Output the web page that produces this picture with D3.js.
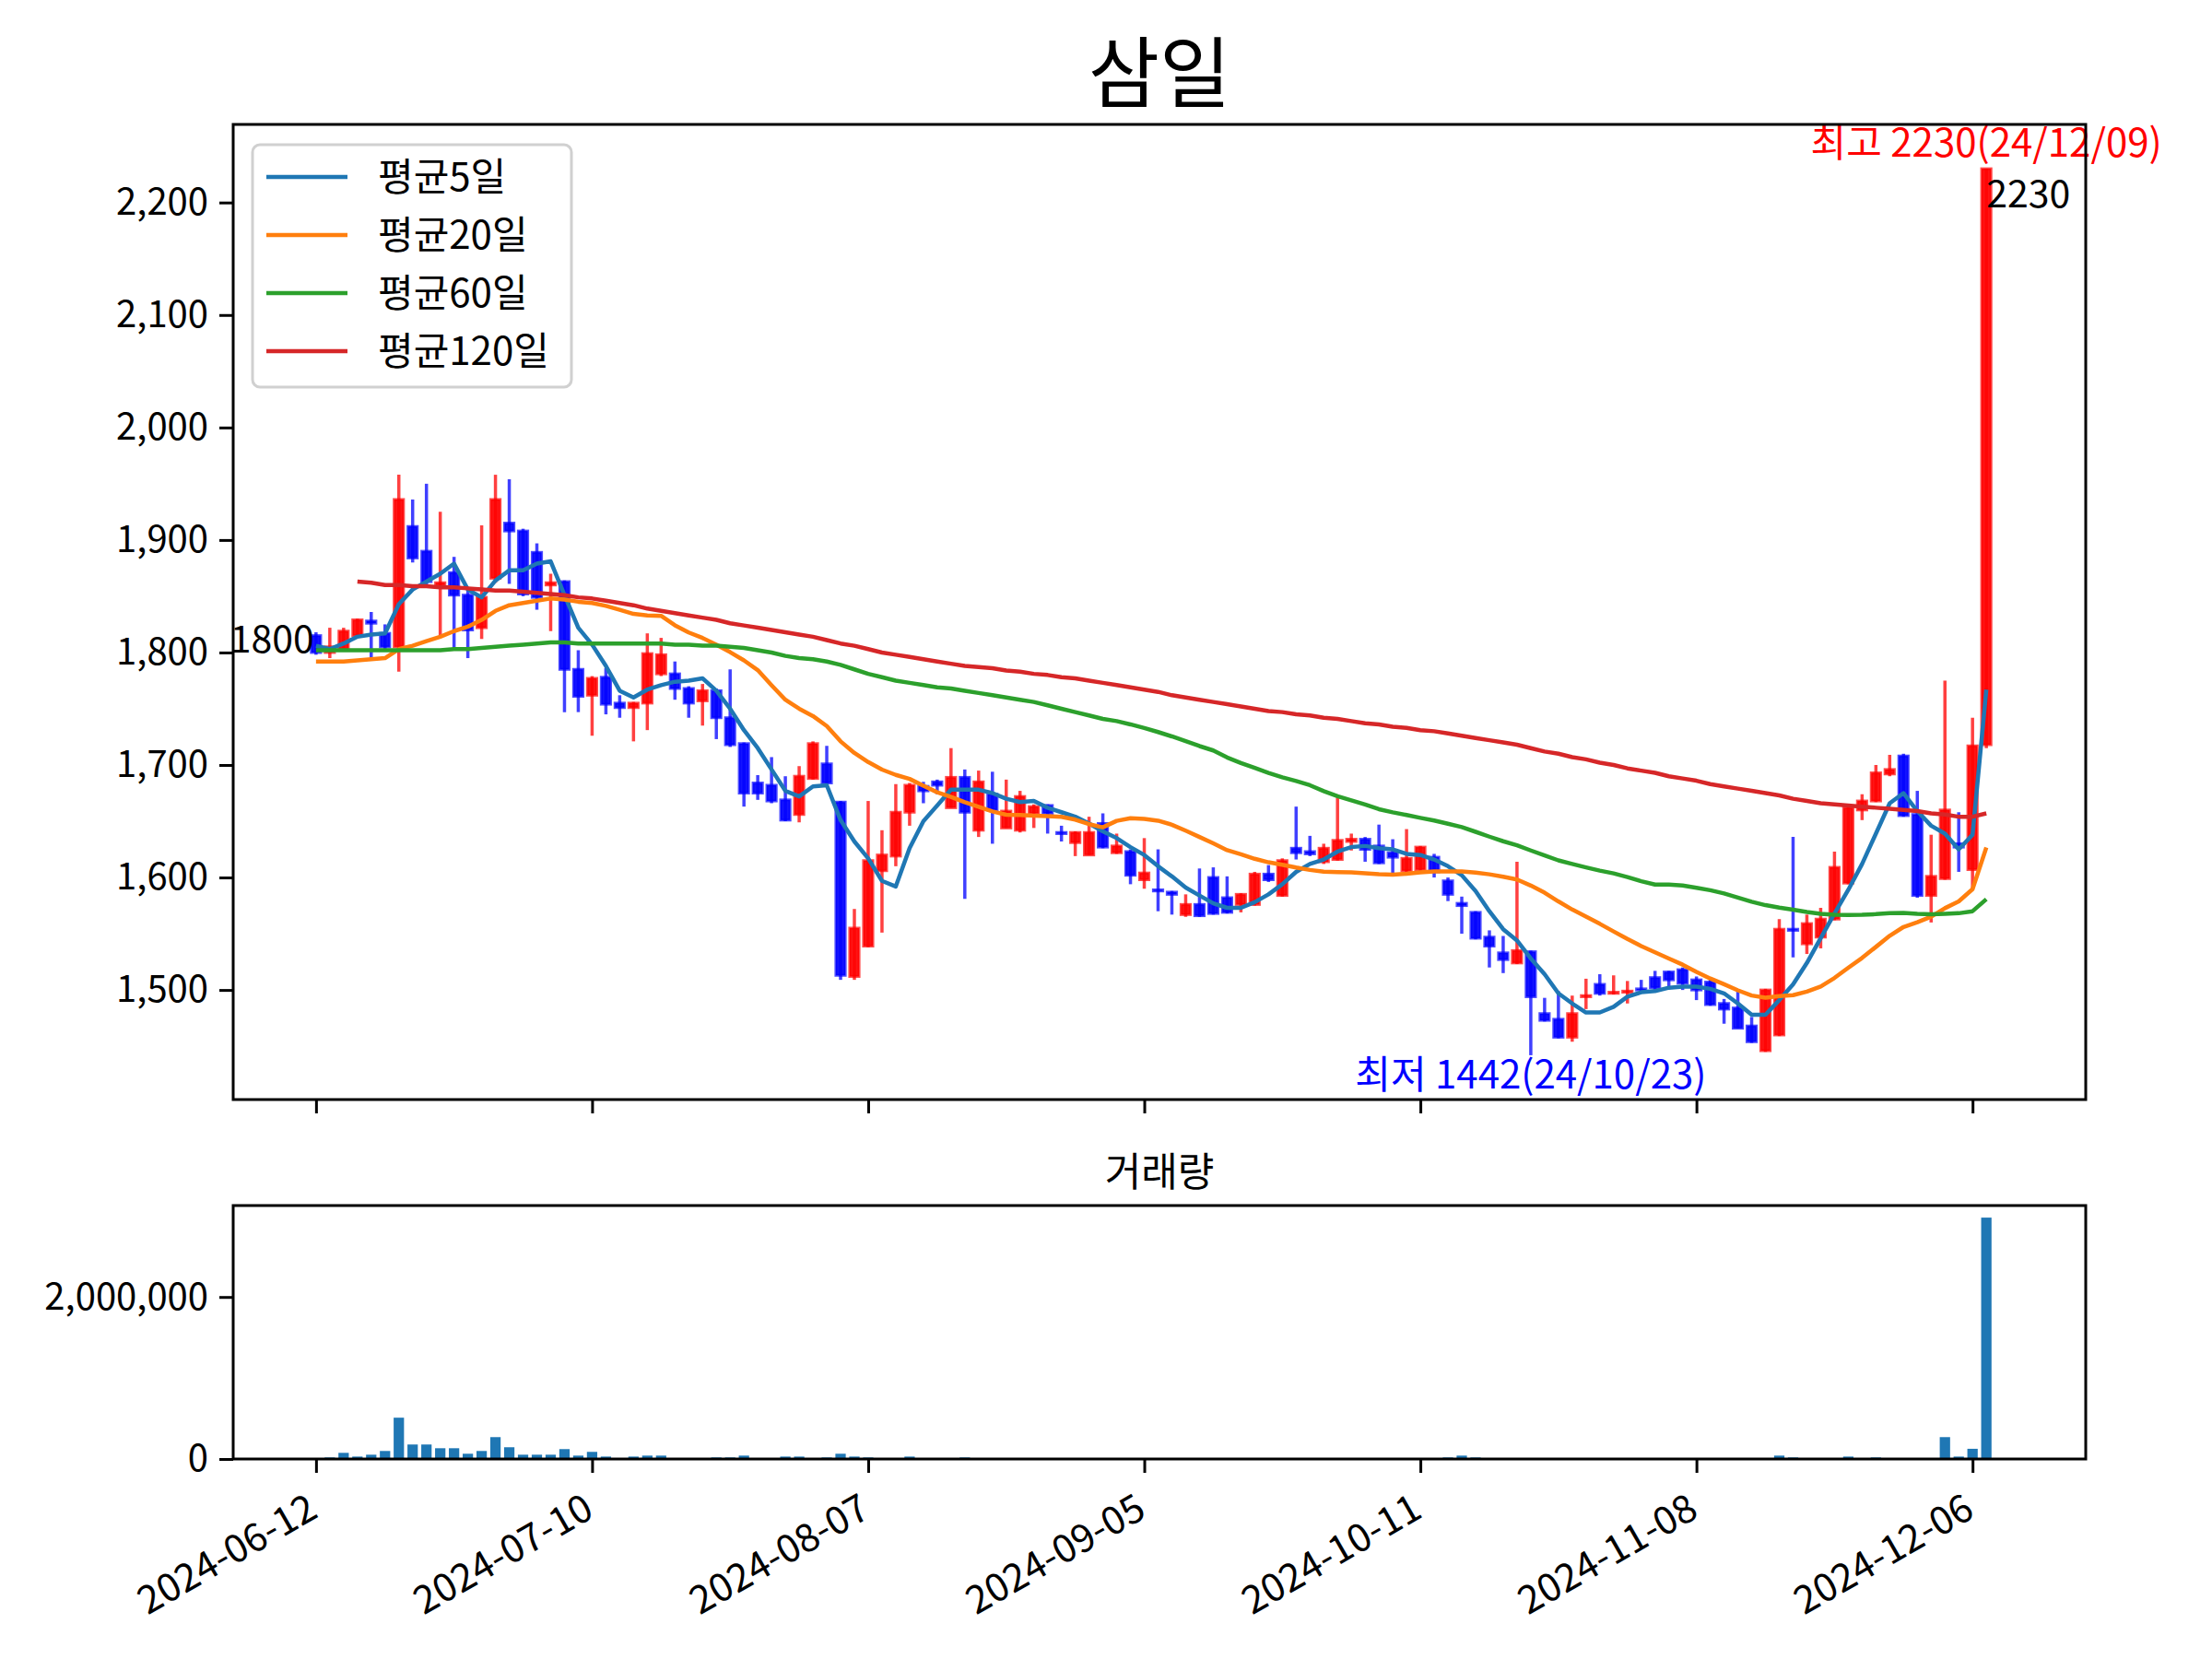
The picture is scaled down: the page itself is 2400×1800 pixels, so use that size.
<!DOCTYPE html>
<html>
<head>
<meta charset="utf-8">
<script src="https://cdn.jsdelivr.net/npm/d3@7"></script>
<style>
  body { margin: 0; background: #fff; }
  svg text { font-family: "Noto Sans CJK KR", "Noto Sans", sans-serif; }
</style>
</head>
<body>
<svg id="chart" width="2400" height="1800"></svg>
<script>
// daily OHLC, 2024-06-12 .. 2024-12-09 (122 trading days)
var opens = [1815,1800,1803,1815,1828,1817,1805,1912,1890,1860,
  1871,1851,1822,1866,1915,1908,1889,1860,1863,1785,
  1762,1778,1755,1751,1755,1781,1781,1768,1757,1766,
  1742,1719,1684,1682,1669,1656,1688,1701,1667,1512,
  1539,1606,1619,1658,1681,1685,1662,1689,1642,1674,
  1644,1642,1657,1664,1640,1631,1620,1648,1622,1623,
  1598,1589,1587,1567,1576,1600,1582,1576,1576,1603,
  1584,1626,1623,1614,1616,1632,1634,1628,1622,1606,
  1607,1618,1597,1577,1569,1547,1533,1524,1534,1479,
  1474,1458,1494,1505,1497,1498,1501,1511,1516,1518,
  1509,1507,1488,1484,1468,1446,1460,1554,1541,1547,
  1563,1595,1660,1668,1692,1708,1656,1584,1599,1630,
  1607,1718];
var highs = [1818,1822,1822,1830,1836,1825,1958,1936,1950,1925,
  1885,1855,1913,1958,1954,1910,1897,1870,1864,1802,
  1779,1786,1762,1756,1817,1813,1792,1770,1772,1768,
  1785,1720,1691,1707,1690,1699,1721,1717,1668,1572,
  1668,1642,1683,1684,1685,1687,1715,1696,1695,1694,
  1687,1677,1665,1665,1646,1641,1654,1657,1639,1625,
  1635,1625,1588,1585,1608,1609,1601,1586,1605,1611,
  1617,1663,1637,1630,1671,1639,1636,1647,1634,1643,
  1628,1621,1600,1583,1570,1553,1548,1614,1535,1493,
  1499,1495,1510,1514,1513,1508,1509,1517,1517,1520,
  1512,1510,1492,1500,1476,1501,1563,1636,1567,1573,
  1623,1663,1674,1700,1709,1710,1677,1638,1775,1658,
  1742,2230];
var lows = [1798,1795,1802,1814,1795,1802,1783,1880,1860,1813,
  1803,1795,1812,1862,1861,1850,1838,1819,1747,1747,
  1726,1745,1742,1721,1731,1779,1758,1742,1735,1723,
  1716,1663,1669,1666,1650,1649,1687,1683,1509,1509,
  1538,1551,1610,1646,1666,1674,1662,1581,1636,1630,
  1644,1640,1644,1639,1632,1619,1620,1626,1621,1594,
  1590,1570,1567,1565,1565,1567,1568,1569,1575,1596,
  1583,1616,1619,1612,1615,1624,1614,1612,1604,1605,
  1606,1600,1579,1550,1545,1520,1515,1523,1442,1472,
  1457,1454,1483,1495,1496,1488,1498,1500,1503,1500,
  1491,1486,1470,1466,1453,1445,1459,1529,1532,1537,
  1562,1594,1651,1667,1690,1654,1582,1560,1598,1605,
  1590,1715];
var closes = [1800,1805,1819,1829,1826,1805,1936,1884,1863,1862,
  1851,1820,1849,1936,1908,1852,1849,1862,1785,1761,
  1777,1754,1751,1755,1799,1798,1768,1755,1766,1742,
  1718,1675,1675,1668,1651,1690,1719,1684,1513,1555,
  1615,1620,1658,1682,1677,1682,1689,1658,1685,1660,
  1659,1672,1663,1657,1639,1640,1640,1627,1628,1602,
  1604,1588,1585,1576,1566,1568,1569,1585,1603,1598,
  1615,1622,1621,1626,1633,1634,1625,1613,1618,1617,
  1627,1605,1585,1575,1546,1539,1527,1535,1494,1473,
  1458,1479,1495,1497,1498,1499,1500,1502,1509,1506,
  1500,1487,1483,1466,1454,1500,1554,1553,1559,1563,
  1609,1662,1668,1693,1696,1655,1584,1601,1660,1627,
  1717,2230];
var volumes = [8000,19000,76000,30000,53000,99000,510000,179000,179000,133000,
  133000,65000,99000,270000,145000,53000,53000,53000,122000,42000,
  88000,30000,8000,30000,42000,42000,8000,8000,3000,19000,
  19000,42000,4000,4000,30000,30000,8000,19000,65000,30000,
  19000,8000,4000,30000,4000,3000,8000,19000,8000,3000,
  2000,3000,2000,3000,2000,2000,3000,2000,2000,8000,
  3000,2000,2000,3000,2000,2000,3000,2000,2000,2000,
  3000,2000,2000,3000,2000,2000,2000,3000,2000,2000,
  3000,2000,19000,42000,19000,8000,3000,3000,8000,3000,
  8000,8000,3000,3000,3000,2000,3000,3000,3000,3000,
  3000,3000,8000,3000,3000,8000,42000,19000,3000,8000,
  8000,30000,8000,19000,3000,8000,8000,8000,270000,30000,
  126000,2980000];

// moving averages as drawn
var ma5 = [1806,1803,1808,1814,1816,1817,1843,1856,1863,1870,
  1879,1856,1849,1864,1873,1873,1879,1881,1851,1822,
  1807,1788,1766,1760,1767,1771,1774,1775,1777,1766,
  1750,1731,1715,1696,1677,1672,1681,1682,1651,1632,
  1617,1597,1592,1626,1650,1664,1678,1678,1678,1675,
  1670,1667,1668,1662,1658,1654,1648,1641,1635,1627,
  1620,1610,1601,1591,1584,1577,1573,1573,1578,1585,
  1594,1605,1612,1616,1623,1627,1628,1626,1625,1621,
  1620,1616,1610,1602,1588,1570,1554,1544,1528,1514,
  1497,1488,1480,1480,1485,1494,1498,1499,1502,1503,
  1503,1501,1497,1488,1478,1478,1491,1505,1524,1546,
  1568,1589,1612,1639,1666,1675,1659,1646,1639,1625,
  1638,1767];
var ma20 = [1792,1792,1792,1793,1794,1795,1803,1806,1810,1814,
  1819,1823,1829,1837,1842,1844,1846,1848,1847,1845.1,
  1844.0,1841.4,1838.0,1834.3,1833.0,1832.6,1824.2,1817.8,1812.9,1806.9,
  1800.3,1793.0,1784.3,1770.9,1758.0,1750.0,1743.5,1734.6,1721.0,1710.7,
  1702.6,1695.9,1691.2,1687.6,1681.5,1675.7,1671.7,1666.9,1662.8,1658.7,
  1655.8,1655.6,1655.0,1654.5,1653.9,1651.4,1647.4,1644.6,1650.3,1652.7,
  1652.1,1650.5,1646.9,1641.6,1636.0,1630.3,1624.3,1620.7,1616.6,1613.5,
  1611.3,1608.8,1606.7,1605.1,1604.8,1604.5,1603.8,1603.0,1602.6,1603.3,
  1604.5,1605.3,1605.3,1605.3,1604.3,1602.8,1600.7,1598.2,1592.8,1586.5,
  1578.7,1571.5,1565.2,1558.8,1552.0,1545.3,1539.0,1533.5,1528.0,1522.5,
  1516.1,1510.2,1505.1,1499.7,1495.1,1493.1,1494.5,1495.4,1498.6,1503.1,
  1510.7,1519.8,1528.5,1538.3,1548.2,1556.0,1560.2,1565.1,1572.7,1578.7,
  1589.6,1626.7];
var ma60 = [1802,1802,1802,1802,1802,1802,1802,1802,1802,1802,
  1803,1803,1804,1805,1806,1807,1808,1809,1809,1808,
  1808,1808,1808,1808,1808,1808,1807,1807,1806,1806,
  1805,1804,1802,1800,1797,1795,1794,1792,1789,1785,
  1781,1778,1775,1773,1771,1769,1768,1766,1764,1762,
  1760,1758,1756,1753,1750,1747,1744,1741,1739,1736.1,
  1732.9,1729.3,1725.4,1721.1,1716.8,1712.9,1706.7,1701.8,1697.4,1693.0,
  1689.1,1685.8,1682.0,1676.8,1672.2,1668.6,1664.9,1660.7,1657.9,1655.5,
  1653.0,1650.6,1647.8,1644.8,1640.6,1636.3,1632.2,1628.6,1624.0,1619.6,
  1615.2,1612.0,1609.0,1606.1,1603.6,1600.4,1596.7,1593.7,1593.6,1592.8,
  1590.9,1588.7,1585.8,1582.2,1578.4,1575.4,1573.2,1571.4,1569.3,1567.7,
  1566.9,1566.7,1566.8,1567.4,1568.3,1568.6,1567.6,1567.2,1567.7,1568.2,
  1570.0,1580.7];
var ma120 = [null,null,null,1863,1862,1860,1860,1859,1859,1858,
  1858,1857,1856,1855,1855,1854,1853,1852,1851,1849,
  1848,1846,1844,1842,1839,1837,1835,1833,1831,1829,
  1826,1824,1822,1820,1818,1816,1814,1811,1808,1806,
  1803,1800,1798,1796,1794,1792,1790,1788,1787,1786,
  1784,1783,1781,1780,1778,1777,1775,1773,1771,1769,
  1767,1765,1762,1760,1758,1756,1754,1752,1750,1748,
  1747,1745,1744,1742,1741,1739,1737,1736,1734,1733,
  1731,1730,1728,1726,1724,1722,1720,1718,1715,1712,
  1710,1707,1705,1702,1700,1697,1695,1693,1690,1688,
  1686,1683,1681,1679,1677,1675,1673,1670,1668,1666,
  1665,1664,1663,1662,1661,1660,1659,1657,1656,1654,
  1654,1657];

var maNames = ["평균5일", "평균20일", "평균60일", "평균120일"];
var maColors = ["#1f77b4", "#ff7f0e", "#2ca02c", "#d62728"];

var tickIdx = [0, 20, 40, 60, 80, 100, 120];
var tickLabels = ["2024-06-12", "2024-07-10", "2024-08-07", "2024-09-05",
  "2024-10-11", "2024-11-08", "2024-12-06"];

var hiIdx = 121, hiLabel = "최고 2230(24/12/09)";
var loIdx = 88, loLabel = "최저 1442(24/10/23)";

var svg = d3.select("#chart");
var idx = d3.range(closes.length);

var left = 253, right = 2263;
var top1 = 135, bottom1 = 1193;
var top2 = 1308, bottom2 = 1583;

var x = d3.scaleLinear().domain([-6.0, 128.2]).range([left, right]);
var step = x(1) - x(0);

var lo = d3.min(lows), hi = d3.max(highs), pad = (hi - lo) * 0.05;
var y = d3.scaleLinear().domain([lo - pad, hi + pad]).range([bottom1, top1]);
var yv = d3.scaleLinear().domain([0, d3.max(volumes) * 1.05]).range([bottom2, top2]);

// title
svg.append("text")
    .attr("x", (left + right) / 2)
    .attr("y", 110)
    .attr("text-anchor", "middle")
    .style("font-size", "84px")
    .text("삼일");

// clip for the price panel
svg.append("clipPath").attr("id", "clip1")
    .append("rect").attr("x", left).attr("y", top1)
    .attr("width", right - left).attr("height", bottom1 - top1);

var plot = svg.append("g").attr("clip-path", "url(#clip1)");

function candleColor(i) {
    return closes[i] >= opens[i] ? "#ff0000" : "#0000ff";
}

// wicks
plot.append("g").selectAll("line")
    .data(idx)
    .enter()
    .append("line")
    .attr("x1", function(i) { return x(i); })
    .attr("x2", function(i) { return x(i); })
    .attr("y1", function(i) { return y(highs[i]); })
    .attr("y2", function(i) { return y(lows[i]); })
    .attr("stroke", candleColor)
    .attr("stroke-opacity", 0.75)
    .attr("stroke-width", 3.5);

// bodies
var bodyW = step * 0.68;
plot.append("g").selectAll("rect")
    .data(idx)
    .enter()
    .append("rect")
    .attr("x", function(i) { return x(i) - bodyW / 2; })
    .attr("width", bodyW)
    .attr("y", function(i) { return y(Math.max(opens[i], closes[i])); })
    .attr("height", function(i) {
        return Math.max(1, Math.abs(y(opens[i]) - y(closes[i])));
    })
    .attr("fill", candleColor)
    .attr("fill-opacity", 0.92)
    .attr("stroke", candleColor)
    .attr("stroke-opacity", 0.7)
    .attr("stroke-width", 3);

// moving averages
var line = d3.line()
    .defined(function(d) { return d[1] != null; })
    .x(function(d) { return x(d[0]); })
    .y(function(d) { return y(d[1]); });

[ma5, ma20, ma60, ma120].forEach(function(ma, k) {
    plot.append("path")
        .datum(ma.map(function(v, i) { return [i, v]; }))
        .attr("d", line)
        .attr("fill", "none")
        .attr("stroke", maColors[k])
        .attr("stroke-width", 4.5)
        .attr("stroke-linejoin", "round");
});

// annotations
svg.append("text")
    .attr("x", x(0) - 2)
    .attr("y", y(closes[0]))
    .attr("text-anchor", "end")
    .style("font-size", "41px")
    .text(closes[0]);

svg.append("text")
    .attr("x", x(hiIdx))
    .attr("y", y(highs[hiIdx]))
    .attr("dy", "1.02em")
    .style("font-size", "41px")
    .text(highs[hiIdx]);

svg.append("text")
    .attr("x", x(hiIdx))
    .attr("y", y(highs[hiIdx]) - 13)
    .attr("text-anchor", "middle")
    .attr("fill", "#ff0000")
    .style("font-size", "42px")
    .text(hiLabel);

svg.append("text")
    .attr("x", x(loIdx))
    .attr("y", y(lows[loIdx]))
    .attr("dy", "0.85em")
    .attr("text-anchor", "middle")
    .attr("fill", "#0000ff")
    .style("font-size", "42px")
    .text(loLabel);

// price axes
var gy = svg.append("g")
    .attr("transform", "translate(" + left + ",0)")
    .call(d3.axisLeft(y)
        .tickValues(d3.range(1500, 2201, 100))
        .tickFormat(d3.format(","))
        .tickSize(15)
        .tickPadding(12));

var gx1 = svg.append("g")
    .attr("transform", "translate(0," + bottom1 + ")")
    .call(d3.axisBottom(x).tickValues(tickIdx).tickFormat("").tickSize(15));

svg.append("rect")
    .attr("x", left).attr("y", top1)
    .attr("width", right - left).attr("height", bottom1 - top1)
    .attr("fill", "none").attr("stroke", "#000").attr("stroke-width", 3);

// legend
var legend = svg.append("g").attr("transform", "translate(274,157)");
legend.append("rect")
    .attr("width", 346).attr("height", 263)
    .attr("rx", 8)
    .attr("fill", "#fff").attr("fill-opacity", 0.8)
    .attr("stroke", "#d0d0d0").attr("stroke-width", 3);

var items = legend.selectAll(".legend-item")
    .data(maNames)
    .enter()
    .append("g")
    .attr("class", "legend-item")
    .attr("transform", function(d, i) { return "translate(0," + (35 + 63 * i) + ")"; });

items.append("line")
    .attr("x1", 15).attr("x2", 103)
    .attr("stroke", function(d, i) { return maColors[i]; })
    .attr("stroke-width", 4.5);

items.append("text")
    .attr("x", 136)
    .attr("dy", "0.35em")
    .style("font-size", "42px")
    .text(function(d) { return d; });

// volume panel
svg.append("text")
    .attr("x", (left + right) / 2)
    .attr("y", 1287)
    .attr("text-anchor", "middle")
    .style("font-size", "43px")
    .text("거래량");

var barW = step * 0.75;
svg.append("g").selectAll("rect")
    .data(idx)
    .enter()
    .append("rect")
    .attr("x", function(i) { return x(i) - barW / 2; })
    .attr("width", barW)
    .attr("y", function(i) { return yv(volumes[i]); })
    .attr("height", function(i) { return bottom2 - yv(volumes[i]); })
    .attr("fill", "#1f77b4");

var gyv = svg.append("g")
    .attr("transform", "translate(" + left + ",0)")
    .call(d3.axisLeft(yv)
        .tickValues([0, 2000000])
        .tickFormat(d3.format(","))
        .tickSize(15)
        .tickPadding(12));

var gx2 = svg.append("g")
    .attr("transform", "translate(0," + bottom2 + ")")
    .call(d3.axisBottom(x)
        .tickValues(tickIdx)
        .tickFormat(function(d, i) { return tickLabels[i]; })
        .tickSize(15));

// axis styling
[gy, gx1, gyv, gx2].forEach(function(g) {
    g.select(".domain").remove();
    g.selectAll(".tick line").attr("stroke", "#000").attr("stroke-width", 3);
    g.selectAll(".tick text")
        .attr("fill", "#000")
        .style("font-size", "40px")
        .style("font-family", "'Noto Sans CJK KR', 'Noto Sans', sans-serif");
});

gx2.selectAll("text")
    .attr("x", 0).attr("y", 0).attr("dy", null)
    .attr("text-anchor", "end")
    .attr("dominant-baseline", "hanging")
    .attr("transform", "translate(-16,28) rotate(-30)")
    .style("font-size", "42px");

svg.append("rect")
    .attr("x", left).attr("y", top2)
    .attr("width", right - left).attr("height", bottom2 - top2)
    .attr("fill", "none").attr("stroke", "#000").attr("stroke-width", 3);
</script>
</body>
</html>
